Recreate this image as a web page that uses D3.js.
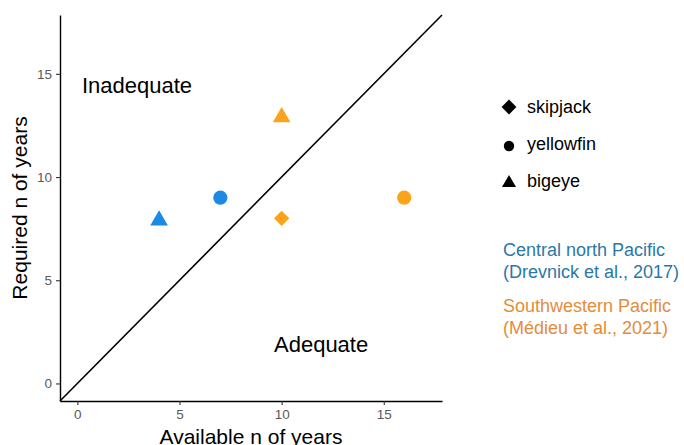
<!DOCTYPE html>
<html>
<head>
<meta charset="utf-8">
<script src="https://cdn.jsdelivr.net/npm/d3@7"></script>
<style>
  body { margin: 0; background: #fff; }
  svg text { font-family: "Liberation Sans", Arial, sans-serif; }
</style>
</head>
<body>
<svg id="chart" width="684" height="445"></svg>
<script>
const blue = "#1e88e5"
const orange = "#fba31b"

// data
let available = [4, 7, 10, 10, 16]
let required = [8, 9, 13, 8, 9]
let species = ["bigeye", "yellowfin", "bigeye", "skipjack", "yellowfin"]
let region = ["cnp", "cnp", "swp", "swp", "swp"]
let ticks = [0, 5, 10, 15]
let speciesNames = ["skipjack", "yellowfin", "bigeye"]

let svg = d3.select("#chart")

let x = d3.scaleLinear()
  .domain([-0.85, 17.85])
  .range([60, 442])

let y = d3.scaleLinear()
  .domain([-0.85, 17.85])
  .range([401, 15])

let colour = d3.scaleOrdinal()
  .domain(["cnp", "swp"])
  .range([blue, orange])

let shape = d3.scaleOrdinal()
  .domain(["skipjack", "yellowfin", "bigeye"])
  .range([d3.symbolDiamond2, d3.symbolCircle, d3.symbolTriangle])

let shapeSize = { skipjack: 150, yellowfin: 160, bigeye: 135 }

// axes
let xAxis = svg.append("g")
  .attr("transform", "translate(0,401)")
  .call(d3.axisBottom(x).tickValues(ticks).tickSize(4).tickPadding(4).tickSizeOuter(0))
let yAxis = svg.append("g")
  .attr("transform", "translate(60,0)")
  .call(d3.axisLeft(y).tickValues(ticks).tickSize(4).tickPadding(4).tickSizeOuter(0))

for (let g of [xAxis, yAxis]) {
  g.select(".domain").attr("stroke", "#000").attr("stroke-width", 1.4)
  g.selectAll(".tick line").attr("stroke", "#333").attr("stroke-width", 1.1)
  g.selectAll(".tick text")
    .attr("fill", "#5a5a5a")
    .style("font-size", "13.5px")
}

// diagonal y = x
svg.append("line")
  .attr("x1", x(-0.85)).attr("y1", y(-0.85))
  .attr("x2", x(17.85)).attr("y2", y(17.85))
  .attr("stroke", "#000")
  .attr("stroke-width", 1.6)

// points
let idx = d3.range(available.length)
svg.selectAll("path.pt").data(idx)
  .enter().append("path")
    .attr("class", "pt")
    .attr("transform", i => `translate(${x(available[i])},${y(required[i]) + (species[i] == "bigeye" ? 2 : 0)})`)
    .attr("d", i => d3.symbol().type(shape(species[i])).size(shapeSize[species[i]])())
    .attr("fill", i => colour(region[i]))

// region labels
svg.append("text").attr("x", 82).attr("y", 93)
  .style("font-size", "22px").text("Inadequate")
svg.append("text").attr("x", 274).attr("y", 352)
  .style("font-size", "22px").text("Adequate")

// axis titles
svg.append("text")
  .attr("x", 251).attr("y", 444)
  .attr("text-anchor", "middle")
  .style("font-size", "21px")
  .text("Available n of years")
svg.append("text")
  .attr("transform", "translate(27,208) rotate(-90)")
  .attr("text-anchor", "middle")
  .style("font-size", "21px")
  .text("Required n of years")

// shape legend
let leg = svg.selectAll("g.leg").data(speciesNames)
  .enter().append("g")
    .attr("class", "leg")
    .attr("transform", (d, i) => `translate(509,${107 + i * 37})`)
leg.append("path")
  .attr("d", d => d3.symbol().type(shape(d)).size(d == "skipjack" ? 140 : 85)())
  .attr("transform", (d) => d == "skipjack" ? null : "translate(0,2)")
  .attr("fill", "#000")
leg.append("text")
  .attr("x", 18).attr("y", 6)
  .style("font-size", "18px")
  .text(d => d)

// region legend
let regionLines = [
  ["Central north Pacific", "(Drevnick et al., 2017)", "#2a78a8", 256],
  ["Southwestern Pacific", "(Médieu et al., 2021)", "#e48c3a", 312]
]
for (let r of regionLines) {
  let t = svg.append("text").attr("x", 503).attr("y", r[3])
    .attr("fill", r[2]).style("font-size", "18px")
  t.append("tspan").attr("x", 503).text(r[0])
  t.append("tspan").attr("x", 503).attr("dy", 22).text(r[1])
}
</script>
</body>
</html>
